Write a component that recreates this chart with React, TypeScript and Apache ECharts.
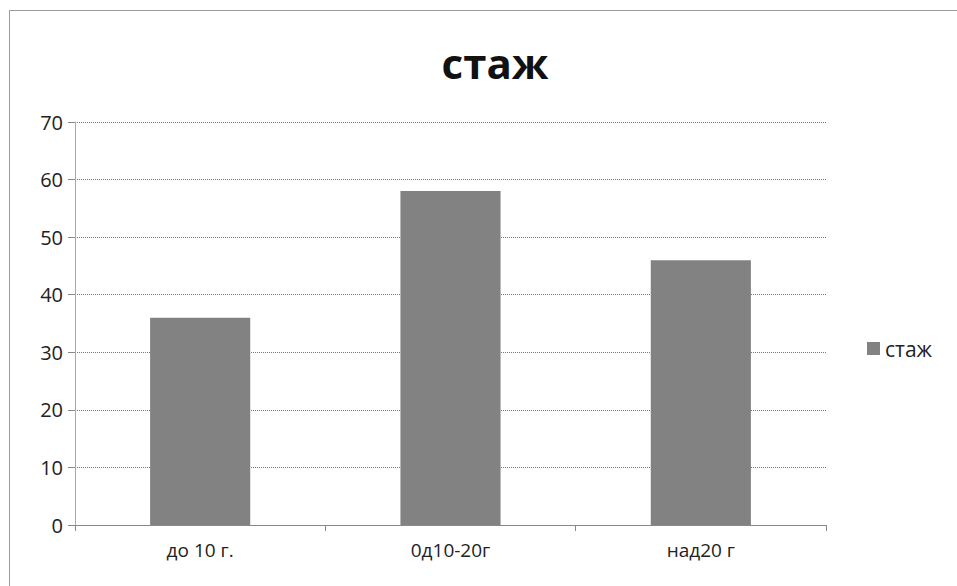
import React, { useEffect, useRef } from "react";
import * as echarts from "echarts";

const categories = ["до 10 г.", "0д10-20г", "над20 г"];
const values = [36, 58, 46];
const seriesName = "стаж";
const titleText = "стаж";

export default function App() {
  const ref = useRef<HTMLDivElement>(null);
  useEffect(() => {
    if (!ref.current) return;
    const chart = echarts.init(ref.current, undefined, { renderer: "svg" });
    const font = "'Open Sans', 'Noto Sans', sans-serif";
    chart.setOption({
      animation: false,
      backgroundColor: "#ffffff",
      title: {
        text: titleText,
        left: 490,
        top: 36,
        textAlign: "center",
        textStyle: { fontSize: 42, fontWeight: "bold", color: "#111", fontFamily: font },
      },
      legend: {
        show: true,
        left: 862,
        top: 333,
        orient: "vertical",
        icon: "rect",
        itemWidth: 13,
        itemHeight: 13,
        itemGap: 6,
        textStyle: { fontSize: 21, color: "#222", fontFamily: font },
        data: [seriesName],
      },
      grid: { left: 75, right: 131, top: 122, bottom: 61, containLabel: false },
      xAxis: {
        type: "category",
        data: categories,
        axisLine: { show: true, lineStyle: { color: "#888", width: 1 } },
        axisTick: { show: true, length: 6, lineStyle: { color: "#888" } },
        axisLabel: { fontSize: 19, color: "#222", fontFamily: font, margin: 15 },
      },
      yAxis: {
        type: "value",
        min: 0,
        max: 70,
        interval: 10,
        axisLine: { show: true, lineStyle: { color: "#aaa", width: 1 } },
        axisTick: { show: true, length: 7, lineStyle: { color: "#888" } },
        axisLabel: { fontSize: 20, color: "#222", fontFamily: font, margin: 12 },
        splitLine: { show: true, lineStyle: { color: "#777", type: "dotted", width: 1 } },
      },
      series: [
        {
          name: seriesName,
          type: "bar",
          data: values,
          barWidth: "40%",
          itemStyle: { color: "#828282" },
        },
      ],
      graphic: [
        {
          type: "rect",
          shape: { x: 9.5, y: 10.5, width: 960, height: 600 },
          style: { fill: "none", stroke: "#999", lineWidth: 1 },
          silent: true,
        },
      ],
    });
    return () => chart.dispose();
  }, []);
  return (
    <div
      ref={ref}
      style={{ position: "absolute", left: 0, top: 0, width: 957, height: 586 }}
    />
  );
}
